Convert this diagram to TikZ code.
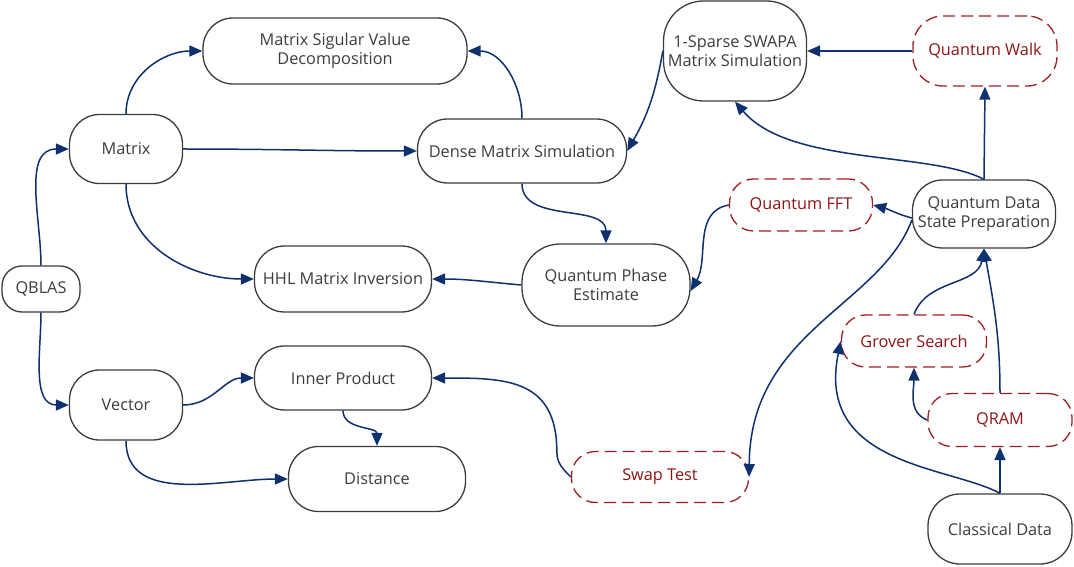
\documentclass[tikz,border=0pt]{standalone}
\usepackage{fontspec}
\setmainfont{Open Sans}
\usetikzlibrary{arrows.meta,calc}
\definecolor{arrowblue}{RGB}{14,48,110}
\definecolor{nodeborder}{RGB}{60,60,60}
\definecolor{textgray}{RGB}{60,60,60}
\definecolor{dashred}{RGB}{160,30,35}
\definecolor{redtext}{RGB}{140,20,20}
\newcommand{\nodefont}{\fontsize{16.3}{19}\selectfont}
\begin{document}
\begin{tikzpicture}[x=1pt,y=1pt,
  nd/.style={draw=nodeborder, line width=1.3pt, text=textgray, align=center, inner sep=0pt, font=\nodefont},
  dsh/.style={nd, draw=dashred, text=redtext, dash pattern=on 12pt off 6pt},
  sz/.style n args={3}{minimum width=#1pt, minimum height=#2pt, rounded corners=#3pt},
  arr/.style={draw=arrowblue, line width=1.5pt, -{Triangle[length=13pt,width=11pt]}}]
\useasboundingbox (0,0) rectangle (1074,566);
\node[nd, sz={264}{66}{30}] (svd) at (335,515) {Matrix Sigular Value\\Decomposition};
\node[nd, sz={113}{69}{30}] (matrix) at (126,417) {Matrix};
\node[nd, sz={209}{64}{30}] (dense) at (522,415) {Dense Matrix Simulation};
\node[nd, sz={177}{66}{30}] (hhl) at (343,287) {HHL Matrix Inversion};
\node[nd, sz={78}{46}{20}] (qblas) at (41,277) {QBLAS};
\node[nd, sz={113}{70}{30}] (vector) at (126,161) {Vector};
\node[nd, sz={177}{64}{30}] (inner) at (343,188) {Inner Product};
\node[nd, sz={177}{65}{30}] (distance) at (377,87) {Distance};
\node[nd, sz={143}{100}{40}] (sparse) at (735,515) {1-Sparse SWAPA\\Matrix Simulation};
\node[dsh, sz={144}{70}{30}] (walk) at (985,515) {Quantum Walk};
\node[nd, sz={168}{82}{38}] (qpe) at (606,281) {Quantum Phase\\Estimate};
\node[dsh, sz={143}{52}{24}] (qfft) at (801,361) {Quantum FFT};
\node[nd, sz={143}{68}{30}] (qdsp) at (984,352) {Quantum Data\\State Preparation};
\node[dsh, sz={145}{52}{24}] (grover) at (914,225) {Grover Search};
\node[dsh, sz={144}{53}{24}] (qram) at (1000,146) {QRAM};
\node[dsh, sz={177}{51}{24}] (swap) at (660,89) {Swap Test};
\node[nd, sz={144}{70}{32}] (classical) at (1000,37) {Classical Data};

\draw[arr] (qblas.north) to[out=90,in=180] (matrix.west);
\draw[arr] (qblas.south) to[out=-90,in=180] (vector.west);
\draw[arr] (matrix.north) to[out=90,in=180] (svd.west);
\draw[arr] (matrix.east) to[out=0,in=180] (dense.west);
\draw[arr] (matrix.south) to[out=-90,in=180] (hhl.west);
\draw[arr] (dense.north) to[out=90,in=0] (svd.east);
\draw[arr] (dense.south) to[out=-90,in=90] (qpe.north);
\draw[arr] (sparse.west) to[out=-100,in=60] (dense.east);
\draw[arr] (walk.west) -- (sparse.east);
\draw[arr] (qdsp.north) -- (walk.south);
\draw[arr] (qdsp.north) .. controls (930,415) and (790,400) .. (sparse.south);
\draw[arr] ([yshift=-4pt]qdsp.west) to[out=165,in=-15] (qfft.east);
\draw[arr] (qfft.west) to[out=190,in=60] ([yshift=-6pt]qpe.east);
\draw[arr] (qpe.west) to[out=175,in=0] (hhl.east);
\draw[arr] ([yshift=-6pt]qdsp.west) .. controls (880,260) and (750,235) .. (swap.east);
\draw[arr] (swap.west) to[out=135,in=-90] ++(-14,25) to[out=90,in=0,looseness=1.3] (inner.east);
\draw[arr] (inner.south) to[out=-90,in=90] (distance.north);
\draw[arr] (vector.east) to[out=0,in=180] (inner.west);
\draw[arr] (vector.south) to[out=-90,in=180] (distance.west);
\draw[arr] (grover.north) to[out=70,in=-100] (qdsp.south);
\draw[arr] (qram.north) to[out=90,in=-80] (qdsp.south);
\draw[arr] (qram.west) to[out=160,in=-90] (grover.south);
\draw[arr] (classical.north) -- (qram.south);
\draw[arr] (classical.north) .. controls (950,100) and (815,100) .. (grover.west);
\end{tikzpicture}
\end{document}
